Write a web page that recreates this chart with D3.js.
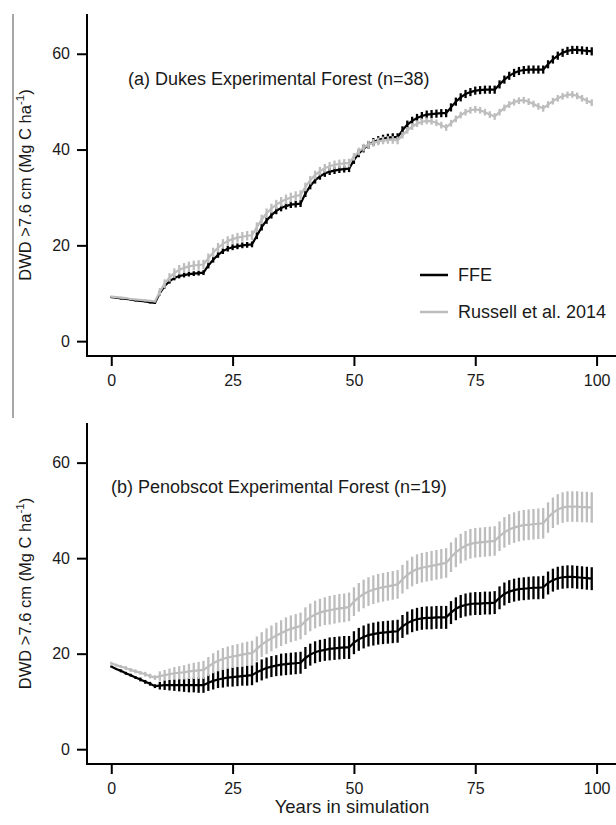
<!DOCTYPE html>
<html><head><meta charset="utf-8">
<script src="https://cdn.jsdelivr.net/npm/d3@7"></script>
<style>
body{margin:0;background:#fff}
text{font-family:"Liberation Sans",Arial,sans-serif;fill:#1a1a1a}
</style>
</head><body>
<svg id="c" width="616" height="825"></svg>
<script>
// ---------- data ----------
const years = d3.range(0, 100);
const xTicks = [0, 25, 50, 75, 100];
const yTicks = [0, 20, 40, 60];
const seriesNames = ["FFE", "Russell et al. 2014"];

// (a) Dukes Experimental Forest
const ffeA = [
  9.2, 9.1, 8.9, 8.8, 8.7, 8.5, 8.4, 8.3, 8.1, 8.0,
  10.0, 11.5, 12.5, 13.2, 13.6, 13.8, 14.0, 14.1, 14.2, 14.3,
  15.8, 17.0, 18.0, 18.8, 19.3, 19.6, 19.8, 20.0, 20.1, 20.2,
  22.0, 23.8, 25.2, 26.3, 27.2, 27.8, 28.2, 28.5, 28.6, 28.7,
  30.8, 32.4, 33.6, 34.4, 35.0, 35.4, 35.6, 35.8, 35.9, 36.0,
  37.8, 39.2, 40.2, 41.0, 41.6, 42.0, 42.3, 42.5, 42.6, 42.6,
  44.0, 45.2, 46.0, 46.6, 47.0, 47.3, 47.4, 47.5, 47.6, 47.6,
  48.8, 50.0, 50.9, 51.6, 52.0, 52.3, 52.4, 52.5, 52.5, 52.5,
  53.6, 54.6, 55.4, 56.0, 56.4, 56.6, 56.7, 56.7, 56.7, 56.7,
  57.8, 58.8, 59.6, 60.2, 60.6, 60.8, 60.8, 60.7, 60.6, 60.5
];
const ffeErrA = [
  0.2, 0.2, 0.2, 0.2, 0.2, 0.2, 0.2, 0.2, 0.2, 0.2,
  0.5, 0.5, 0.5, 0.5, 0.5, 0.5, 0.5, 0.5, 0.5, 0.5,
  0.6, 0.6, 0.6, 0.6, 0.6, 0.6, 0.6, 0.6, 0.6, 0.6,
  0.7, 0.7, 0.7, 0.7, 0.7, 0.7, 0.7, 0.7, 0.7, 0.7,
  0.7, 0.7, 0.7, 0.7, 0.7, 0.7, 0.7, 0.7, 0.7, 0.7,
  0.8, 0.8, 0.8, 0.8, 0.8, 0.8, 0.8, 0.8, 0.8, 0.8,
  0.85, 0.85, 0.85, 0.85, 0.85, 0.85, 0.85, 0.85, 0.85, 0.85,
  0.85, 0.85, 0.85, 0.85, 0.85, 0.85, 0.85, 0.85, 0.85, 0.85,
  0.85, 0.85, 0.85, 0.85, 0.85, 0.85, 0.85, 0.85, 0.85, 0.85,
  0.85, 0.85, 0.85, 0.85, 0.85, 0.85, 0.85, 0.85, 0.85, 0.85
];
const rusA = [
  9.3, 9.2, 9.1, 9.0, 8.8, 8.7, 8.6, 8.5, 8.4, 8.3,
  10.3, 12.0, 13.3, 14.2, 14.9, 15.3, 15.6, 15.8, 15.9, 16.0,
  17.3, 18.5, 19.5, 20.3, 20.9, 21.3, 21.6, 21.8, 22.0, 22.1,
  23.8, 25.4, 26.7, 27.7, 28.5, 29.1, 29.6, 30.0, 30.3, 30.5,
  32.2, 33.6, 34.7, 35.5, 36.1, 36.5, 36.8, 37.0, 37.1, 37.2,
  38.5, 39.6, 40.4, 41.0, 41.4, 41.7, 41.9, 42.0, 42.0, 41.9,
  43.0, 44.0, 44.8, 45.4, 45.8, 46.0, 45.9, 45.6, 45.1, 44.6,
  45.5, 46.4, 47.2, 47.8, 48.2, 48.4, 48.2, 47.8, 47.3, 46.9,
  47.8, 48.7, 49.4, 49.9, 50.2, 50.3, 50.0, 49.5, 49.0, 48.6,
  49.4, 50.1, 50.7, 51.1, 51.4, 51.5, 51.2, 50.7, 50.2, 49.8
];
const rusErrA = [
  0.2, 0.2, 0.2, 0.2, 0.2, 0.2, 0.2, 0.2, 0.2, 0.2,
  0.8, 0.9, 0.9, 1.0, 1.0, 1.0, 1.0, 1.0, 1.0, 1.0,
  1.0, 1.0, 1.0, 1.0, 1.0, 1.0, 1.0, 1.0, 1.0, 1.0,
  1.0, 1.0, 1.0, 1.0, 1.0, 1.0, 1.0, 1.0, 1.0, 1.0,
  0.9, 0.9, 0.9, 0.9, 0.9, 0.9, 0.9, 0.9, 0.9, 0.9,
  0.8, 0.8, 0.8, 0.8, 0.8, 0.8, 0.8, 0.8, 0.8, 0.8,
  0.7, 0.7, 0.7, 0.7, 0.7, 0.7, 0.7, 0.7, 0.7, 0.7,
  0.7, 0.7, 0.7, 0.7, 0.7, 0.7, 0.7, 0.7, 0.7, 0.7,
  0.7, 0.7, 0.7, 0.7, 0.7, 0.7, 0.7, 0.7, 0.7, 0.7,
  0.7, 0.7, 0.7, 0.7, 0.7, 0.7, 0.7, 0.7, 0.7, 0.7
];

// (b) Penobscot Experimental Forest
const ffeB = [
  17.3, 16.8, 16.4, 15.9, 15.5, 15.0, 14.6, 14.1, 13.7, 13.2,
  13.3, 13.4, 13.4, 13.4, 13.4, 13.4, 13.4, 13.4, 13.4, 13.4,
  13.9, 14.3, 14.6, 14.8, 15.0, 15.1, 15.2, 15.3, 15.4, 15.5,
  16.1, 16.6, 17.0, 17.3, 17.5, 17.7, 17.8, 17.9, 18.0, 18.1,
  19.1, 19.8, 20.3, 20.6, 20.8, 21.0, 21.1, 21.2, 21.3, 21.3,
  22.3, 23.0, 23.5, 23.9, 24.1, 24.3, 24.4, 24.5, 24.6, 24.7,
  25.7, 26.4, 26.9, 27.2, 27.4, 27.5, 27.5, 27.6, 27.6, 27.6,
  28.6, 29.4, 29.9, 30.2, 30.4, 30.5, 30.5, 30.6, 30.6, 30.7,
  31.7, 32.5, 33.0, 33.3, 33.5, 33.6, 33.7, 33.8, 33.8, 33.9,
  34.8, 35.4, 35.8, 36.0, 36.1, 36.1, 36.0, 35.9, 35.8, 35.7
];
const ffeErrB = [
  0.2, 0.2, 0.3, 0.3, 0.3, 0.3, 0.4, 0.4, 0.4, 0.4,
  0.8, 1.0, 1.1, 1.2, 1.3, 1.4, 1.5, 1.5, 1.6, 1.6,
  1.7, 1.8, 1.8, 1.9, 1.9, 2.0, 2.0, 2.0, 2.1, 2.1,
  2.1, 2.2, 2.2, 2.2, 2.2, 2.3, 2.3, 2.3, 2.3, 2.3,
  2.3, 2.3, 2.3, 2.3, 2.3, 2.4, 2.4, 2.4, 2.4, 2.4,
  2.4, 2.4, 2.4, 2.4, 2.4, 2.4, 2.4, 2.4, 2.4, 2.4,
  2.4, 2.4, 2.4, 2.4, 2.4, 2.4, 2.4, 2.4, 2.4, 2.4,
  2.4, 2.4, 2.4, 2.4, 2.4, 2.4, 2.4, 2.4, 2.4, 2.4,
  2.4, 2.4, 2.4, 2.4, 2.4, 2.4, 2.4, 2.4, 2.4, 2.4,
  2.4, 2.4, 2.4, 2.4, 2.4, 2.4, 2.4, 2.4, 2.4, 2.4
];
const rusB = [
  18.0, 17.6, 17.3, 17.0, 16.6, 16.3, 16.0, 15.7, 15.3, 15.0,
  15.3, 15.5, 15.7, 15.9, 16.0, 16.1, 16.3, 16.4, 16.5, 16.6,
  17.3, 18.0, 18.5, 18.9, 19.2, 19.4, 19.6, 19.8, 20.0, 20.1,
  21.0, 21.9, 22.6, 23.2, 23.8, 24.3, 24.8, 25.2, 25.5, 25.8,
  26.8, 27.6, 28.2, 28.6, 28.9, 29.1, 29.3, 29.5, 29.6, 29.8,
  30.9, 31.8, 32.5, 33.0, 33.4, 33.7, 33.9, 34.1, 34.3, 34.5,
  35.6, 36.5, 37.2, 37.7, 38.0, 38.2, 38.4, 38.6, 38.8, 39.0,
  40.2, 41.2, 42.0, 42.6, 43.0, 43.2, 43.3, 43.4, 43.5, 43.6,
  44.6, 45.4, 46.0, 46.4, 46.7, 46.9, 47.0, 47.1, 47.2, 47.3,
  48.5, 49.5, 50.2, 50.6, 50.8, 50.8, 50.8, 50.7, 50.7, 50.6
];
const rusErrB = [
  0.3, 0.3, 0.3, 0.4, 0.4, 0.4, 0.4, 0.5, 0.5, 0.5,
  1.0, 1.1, 1.2, 1.3, 1.4, 1.5, 1.6, 1.7, 1.8, 1.9,
  2.0, 2.1, 2.2, 2.3, 2.3, 2.4, 2.4, 2.5, 2.5, 2.6,
  2.6, 2.6, 2.7, 2.7, 2.7, 2.7, 2.8, 2.8, 2.8, 2.8,
  2.9, 2.9, 2.9, 2.9, 2.9, 3.0, 3.0, 3.0, 3.0, 3.0,
  3.0, 3.0, 3.0, 3.0, 3.0, 3.0, 3.0, 3.0, 3.0, 3.0,
  3.0, 3.0, 3.1, 3.1, 3.1, 3.1, 3.1, 3.1, 3.1, 3.1,
  3.1, 3.1, 3.1, 3.1, 3.1, 3.1, 3.1, 3.1, 3.1, 3.1,
  3.1, 3.2, 3.2, 3.2, 3.2, 3.2, 3.2, 3.2, 3.2, 3.2,
  3.2, 3.2, 3.2, 3.2, 3.2, 3.2, 3.2, 3.2, 3.2, 3.2
];

// ---------- drawing ----------
const svg = d3.select("#c");
const BLACK = "#000", GREY = "#bdbdbd";
const FONT = '"Liberation Sans",Arial,sans-serif';
const x = d3.scaleLinear().domain([-5, 104]).range([87, 616]);

// grey separator line at far left of top panel
svg.append("line").attr("x1", 13).attr("x2", 13).attr("y1", 14).attr("y2", 418)
  .attr("stroke", "#8a8a8a").attr("stroke-width", 1.5);

function panel(top, bottom, ffe, ffeErr, rus, rusErr, title, titleX, showLegend, showXTitle) {
  const y = d3.scaleLinear().domain([-3.1, 68.3]).range([bottom, top]);
  const g = svg.append("g");

  // L-shaped box
  g.append("path").attr("d", `M87,${top}V${bottom}H616`)
    .attr("fill", "none").attr("stroke", "#000").attr("stroke-width", 2);

  const ya = g.append("g").attr("transform", "translate(87,0)")
    .call(d3.axisLeft(y).tickValues(yTicks).tickSize(10).tickPadding(7).tickFormat(d3.format("d")));
  ya.select(".domain").remove();
  ya.selectAll(".tick line").attr("stroke", "#000").attr("stroke-width", 2);
  ya.selectAll(".tick text").attr("font-size", 16).style("font-family", FONT).attr("fill", "#1a1a1a");

  const xa = g.append("g").attr("transform", `translate(0,${bottom})`)
    .call(d3.axisBottom(x).tickValues(xTicks).tickSize(10).tickPadding(9).tickFormat(d3.format("d")));
  xa.select(".domain").remove();
  xa.selectAll(".tick line").attr("stroke", "#000").attr("stroke-width", 2);
  xa.selectAll(".tick text").attr("font-size", 16).style("font-family", FONT).attr("fill", "#1a1a1a");

  const line = d3.line().x((d, i) => x(years[i])).y(d => y(d));

  function series(vals, errs, color) {
    g.append("g").selectAll("line").data(vals).join("line")
      .attr("x1", (d, i) => x(years[i])).attr("x2", (d, i) => x(years[i]))
      .attr("y1", (d, i) => y(d - errs[i])).attr("y2", (d, i) => y(d + errs[i]))
      .attr("stroke", color).attr("stroke-width", 2.3);
    g.append("path").datum(vals).attr("d", line)
      .attr("fill", "none").attr("stroke", color).attr("stroke-width", 2.2);
  }
  series(ffe, ffeErr, BLACK);
  series(rus, rusErr, GREY);

  g.append("text").attr("x", titleX).attr("y", y(54.8)).attr("font-size", 18)
    .attr("dominant-baseline", "central").text(title);

  const yl = g.append("text")
    .attr("transform", `translate(31,${(top + bottom) / 2}) rotate(-90)`)
    .attr("text-anchor", "middle").attr("font-size", 16.5);
  yl.append("tspan").text("DWD >7.6 cm (Mg C ha");
  yl.append("tspan").attr("font-size", 11.5).attr("dy", -7).text("-1");
  yl.append("tspan").attr("dy", 7).text(")");

  if (showLegend) {
    const leg = [{ n: seriesNames[0], c: BLACK, y: 275 }, { n: seriesNames[1], c: GREY, y: 312 }];
    leg.forEach(l => {
      g.append("line").attr("x1", 420).attr("x2", 448).attr("y1", l.y).attr("y2", l.y)
        .attr("stroke", l.c).attr("stroke-width", 2.5);
      g.append("text").attr("x", 458).attr("y", l.y).attr("dominant-baseline", "central")
        .attr("font-size", 18).text(l.n);
    });
  }
  if (showXTitle) {
    g.append("text").attr("x", 352).attr("y", 813).attr("text-anchor", "middle")
      .attr("font-size", 18.5).text("Years in simulation");
  }
}

panel(14, 356, ffeA, ffeErrA, rusA, rusErrA, "(a) Dukes Experimental Forest (n=38)", 128, true, false);
panel(423, 764, ffeB, ffeErrB, rusB, rusErrB, "(b) Penobscot Experimental Forest (n=19)", 111, false, true);
</script>
</body></html>
